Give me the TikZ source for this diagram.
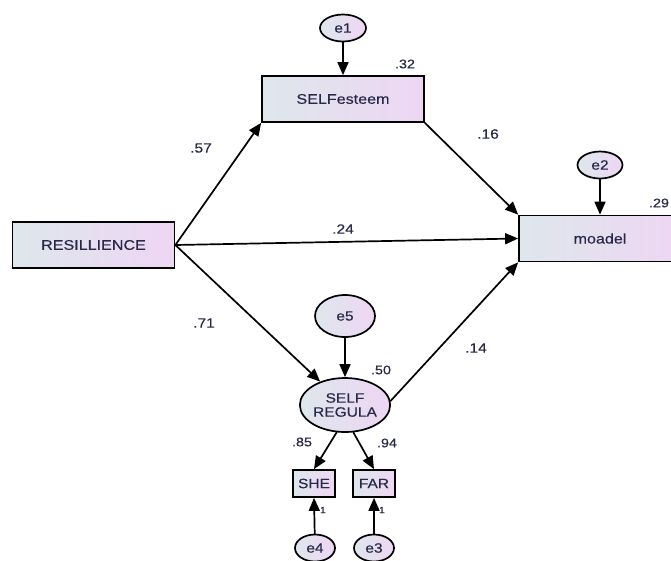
\documentclass[tikz,border=0pt]{standalone}
\usepackage{fontspec}
\setmainfont{Liberation Sans}[FakeStretch=1.15, FakeBold=0.3]
\usetikzlibrary{arrows.meta, shapes.geometric, positioning}
\definecolor{boxL}{RGB}{222,231,236}
\definecolor{boxR}{RGB}{238,214,243}
\definecolor{txt}{RGB}{40,40,72}
\tikzset{
  obs/.style={draw, line width=1.7pt, rectangle, minimum width=162pt, minimum height=46pt, left color=boxL, right color=boxR, text=txt, font=\fontsize{14}{16}\selectfont},
  ind/.style={obs, minimum width=42pt, minimum height=27pt, inner sep=1pt, font=\fontsize{13.5}{15}\selectfont},
  lat/.style={draw, line width=1.7pt, ellipse, minimum width=84pt, minimum height=54pt, inner sep=0pt, left color=boxL, right color=boxR, text=txt, align=center, font=\fontsize{13.5}{14}\selectfont},
  err/.style={lat, minimum width=46pt, minimum height=27pt, font=\fontsize{13.5}{15}\selectfont},
  coef/.style={text=txt, font=\fontsize{13.5}{15}\selectfont},
  wgt/.style={text=txt, font=\fontsize{9}{10}\selectfont},
  path/.style={line width=1.7pt, -{Triangle[length=13pt,width=11pt]}}
}
\begin{document}
\begin{tikzpicture}[x=1pt, y=-1pt, line cap=round]
  \useasboundingbox (0,0) rectangle (671,560);
  \clip (0,0) rectangle (671,560);
  \fill[white] (0,0) rectangle (671,560);

  % variables
  \node[obs] (res) at (93.5,245) {RESILLIENCE};
  \node[obs] (est) at (343,99) {SELFesteem};
  \node[obs] (moa) at (600,238.5) {moadel};
  \node[lat] (reg) at (345,405) {SELF\\REGULA};
  \node[ind] (she) at (314,483.5) {SHE};
  \node[ind] (far) at (374,483.5) {FAR};

  % errors
  \node[err] (e1) at (343,28) {e1};
  \node[err, minimum width=45pt] (e2) at (600,165) {e2};
  \node[err, minimum width=60pt, minimum height=42pt] (e5) at (345,316) {e5};
  \node[err, minimum width=40pt] (e4) at (315,548) {e4};
  \node[err, minimum width=40pt] (e3) at (374,548) {e3};

  % paths
  \draw[path] (res.east) -- (est.south west);
  \draw[path] (res.east) -- (moa.west);
  \draw[path] (res.east) -- (reg);
  \draw[path] (est.south east) -- (moa.north west);
  \draw[path] (reg.5) -- (moa.south west);
  \draw[path] (reg.253) -- (she.north);
  \draw[path] (reg.287) -- (far.north);
  \draw[path] (e1) -- (est.north);
  \draw[path] (e2) -- (moa.north);
  \draw[path] (e5) -- (reg.north);
  \draw[path] (e4) -- (she.south);
  \draw[path] (e3) -- (far.south);

  % estimates
  \node[coef] (c57) at (201,148) {.57};
  \node[coef] (c16) at (488,134) {.16};
  \node[coef] (c24) at (343,229) {.24};
  \node[coef] (c71) at (204,323) {.71};
  \node[coef] (c14) at (476,348) {.14};
  \node[coef, font=\fontsize{12.5}{14}\selectfont] (r32) at (405,64) {.32};
  \node[coef, font=\fontsize{12.5}{14}\selectfont] (r29) at (659,203) {.29};
  \node[coef, font=\fontsize{12.5}{14}\selectfont] (r50) at (381,370) {.50};
  \node[coef, font=\fontsize{12.5}{14}\selectfont] (l85) at (302,442) {.85};
  \node[coef, font=\fontsize{12.5}{14}\selectfont] (l94) at (387,443) {.94};
  \node[wgt] (w4) at (323,510) {1};
  \node[wgt] (w3) at (382,510) {1};
\end{tikzpicture}
\end{document}
